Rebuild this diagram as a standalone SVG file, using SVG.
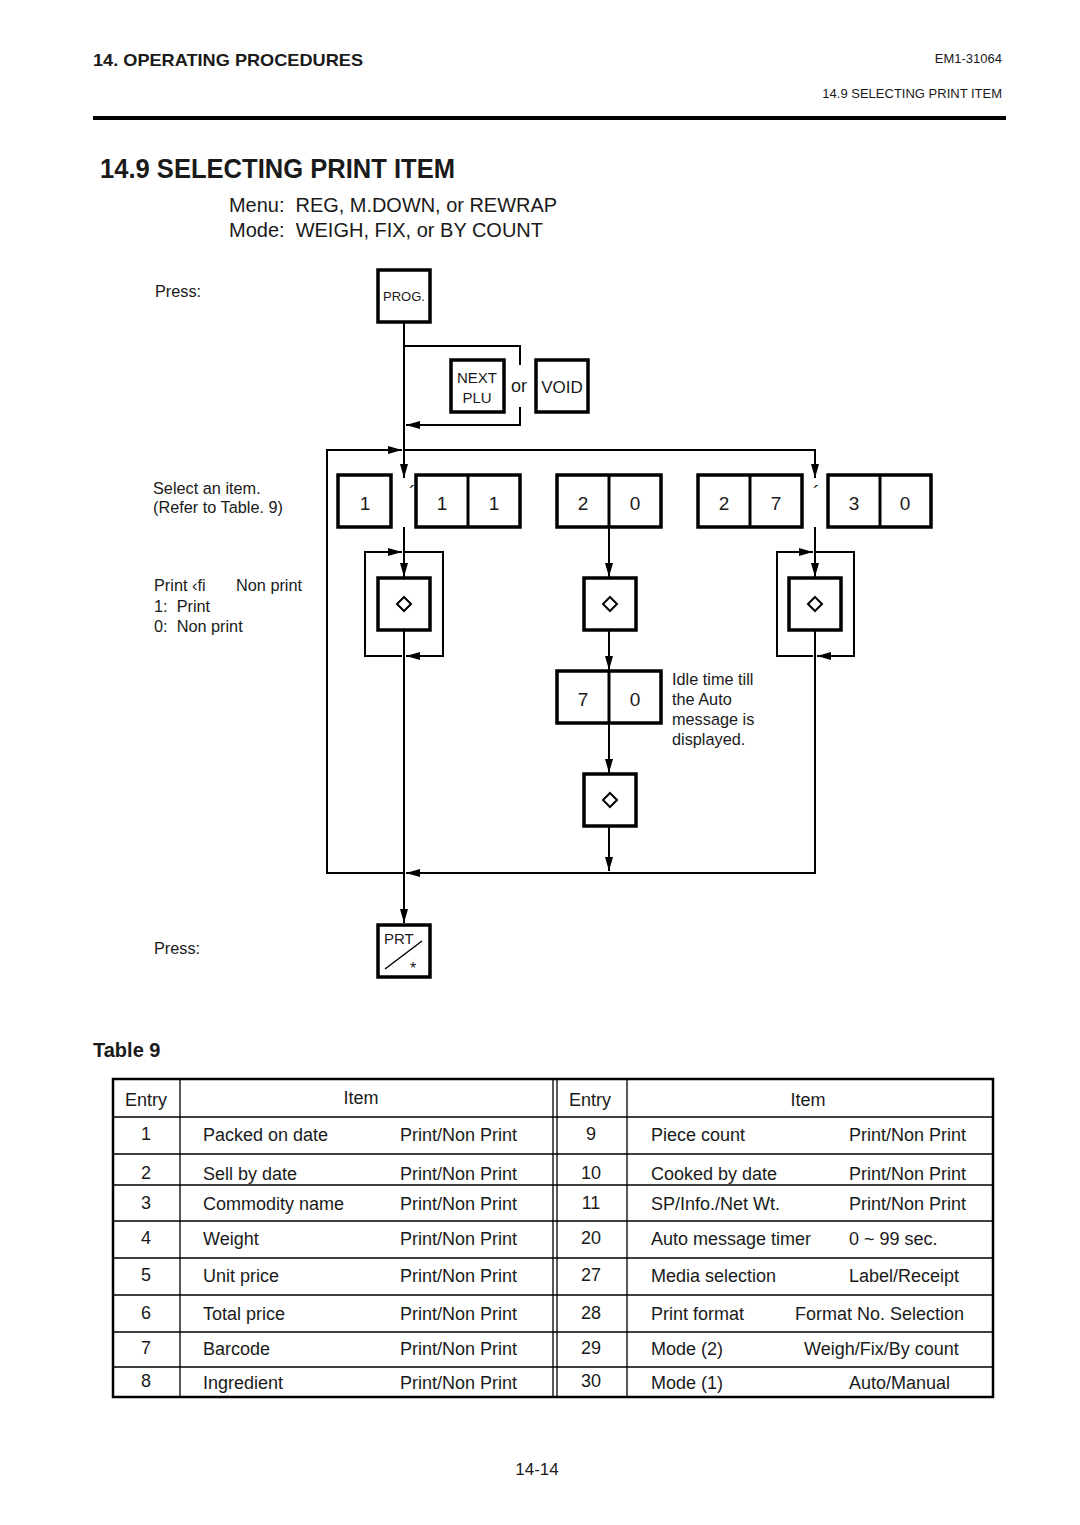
<svg xmlns="http://www.w3.org/2000/svg" width="1080" height="1525" viewBox="0 0 1080 1525" xml:space="preserve">
<style>
text{font-family:"Liberation Sans",Arial,sans-serif;fill:#1a1a1a;white-space:pre}
.key{fill:#fff;stroke:#000;stroke-width:3.5}
.div{stroke:#000;stroke-width:3}
.flow{fill:none;stroke:#000;stroke-width:2}
.k{font-size:19px;text-anchor:middle}
.note{font-size:16.3px}
.tb{font-size:18px}
.tc{font-size:18px;text-anchor:middle}
.tl{stroke:#000;stroke-width:1.3;fill:none}
.dia{fill:#fff;stroke:#000;stroke-width:2}
</style>
<defs>
<marker id="ah" viewBox="0 0 14 8" refX="14" refY="4" markerWidth="14" markerHeight="8" markerUnits="userSpaceOnUse" orient="auto">
<path d="M0,0 L14,4 L0,8 z" fill="#000"/>
</marker>
</defs>
<rect width="1080" height="1525" fill="#fff"/>

<g id="header">
<text x="93" y="66" font-size="17" font-weight="bold" textLength="270" lengthAdjust="spacingAndGlyphs">14. OPERATING PROCEDURES</text>
<text x="1002" y="63" font-size="13" text-anchor="end">EM1-31064</text>
<text x="1002" y="98" font-size="13" text-anchor="end">14.9 SELECTING PRINT ITEM</text>
<rect x="93" y="116" width="913" height="4" fill="#000"/>
<text x="100" y="178" font-size="27" font-weight="bold" textLength="355" lengthAdjust="spacingAndGlyphs">14.9 SELECTING PRINT ITEM</text>
<text x="229" y="212" font-size="19.5" textLength="328" lengthAdjust="spacingAndGlyphs">Menu:  REG, M.DOWN, or REWRAP</text>
<text x="229" y="237" font-size="19.5" textLength="314" lengthAdjust="spacingAndGlyphs">Mode:  WEIGH, FIX, or BY COUNT</text>
</g>

<g id="notes">
<text class="note" x="155" y="297">Press:</text>
<text class="note" x="153" y="494">Select an item.</text>
<text class="note" x="153" y="513">(Refer to Table. 9)</text>
<text class="note" x="154" y="591">Print ‹fi</text>
<text class="note" x="236" y="591">Non print</text>
<text class="note" x="154" y="612">1:  Print</text>
<text class="note" x="154" y="632">0:  Non print</text>
<text class="note" x="672" y="685">Idle time till</text>
<text class="note" x="672" y="705">the Auto</text>
<text class="note" x="672" y="725">message is</text>
<text class="note" x="672" y="745">displayed.</text>
<text class="note" x="154" y="954">Press:</text>
</g>

<g id="connectors">
<path class="flow" d="M404,322 V478" marker-end="url(#ah)"/>
<path class="flow" d="M404,346 H520 V365"/>
<path class="flow" d="M520,407 V425 H406" marker-end="url(#ah)"/>
<path class="flow" d="M404,873 H327 V450 H402" marker-end="url(#ah)"/>
<path class="flow" d="M404,450 H815 V478" marker-end="url(#ah)"/>
<path class="flow" d="M404,527 V577" marker-end="url(#ah)"/>
<path class="flow" d="M404,630 V923" marker-end="url(#ah)"/>
<path class="flow" d="M402,656 H365 V552 H402" marker-end="url(#ah)"/>
<path class="flow" d="M404,552 H443 V656 H406" marker-end="url(#ah)"/>
<path class="flow" d="M609,527 V577" marker-end="url(#ah)"/>
<path class="flow" d="M609,630 V670" marker-end="url(#ah)"/>
<path class="flow" d="M609,723 V773" marker-end="url(#ah)"/>
<path class="flow" d="M609,826 V871" marker-end="url(#ah)"/>
<path class="flow" d="M815,527 V577" marker-end="url(#ah)"/>
<path class="flow" d="M813,656 H777 V552 H813" marker-end="url(#ah)"/>
<path class="flow" d="M815,552 H854 V656 H817" marker-end="url(#ah)"/>
<path class="flow" d="M815,630 V873 H406" marker-end="url(#ah)"/>
</g>

<g id="key-prog">
<rect class="key" x="378" y="270" width="52" height="52"/>
<text x="404" y="301" font-size="13" text-anchor="middle">PROG.</text>
</g>
<g id="key-nextplu">
<rect class="key" x="451" y="360" width="53" height="52"/>
<text x="477" y="383" font-size="15" text-anchor="middle">NEXT</text>
<text x="477" y="403" font-size="15" text-anchor="middle">PLU</text>
</g>
<text x="511" y="392" font-size="18">or</text>
<g id="key-void">
<rect class="key" x="536" y="360" width="52" height="52"/>
<text x="562" y="393" font-size="17" text-anchor="middle">VOID</text>
</g>

<g id="key-1">
<rect class="key" x="338" y="475" width="53" height="52"/>
<text class="k" x="365" y="510">1</text>
</g>
<text x="409" y="500" font-size="20">´</text>
<g id="key-11">
<rect class="key" x="416" y="475" width="104" height="52"/>
<line class="div" x1="468" y1="475" x2="468" y2="527"/>
<text class="k" x="442" y="510">1</text>
<text class="k" x="494" y="510">1</text>
</g>
<g id="key-20">
<rect class="key" x="557" y="475" width="104" height="52"/>
<line class="div" x1="609" y1="475" x2="609" y2="527"/>
<text class="k" x="583" y="510">2</text>
<text class="k" x="635" y="510">0</text>
</g>
<g id="key-27">
<rect class="key" x="698" y="475" width="104" height="52"/>
<line class="div" x1="750" y1="475" x2="750" y2="527"/>
<text class="k" x="724" y="510">2</text>
<text class="k" x="776" y="510">7</text>
</g>
<text x="813" y="500" font-size="20">´</text>
<g id="key-30">
<rect class="key" x="828" y="475" width="103" height="52"/>
<line class="div" x1="880" y1="475" x2="880" y2="527"/>
<text class="k" x="854" y="510">3</text>
<text class="k" x="905" y="510">0</text>
</g>

<g id="key-diamond-1">
<rect class="key" x="378" y="578" width="52" height="52"/>
<polygon class="dia" points="404,597 411,604 404,611 397,604"/>
</g>
<g id="key-diamond-2">
<rect class="key" x="584" y="578" width="52" height="52"/>
<polygon class="dia" points="610,597 617,604 610,611 603,604"/>
</g>
<g id="key-diamond-3">
<rect class="key" x="789" y="578" width="52" height="52"/>
<polygon class="dia" points="815,597 822,604 815,611 808,604"/>
</g>
<g id="key-70">
<rect class="key" x="557" y="671" width="104" height="52"/>
<line class="div" x1="609" y1="671" x2="609" y2="723"/>
<text class="k" x="583" y="706">7</text>
<text class="k" x="635" y="706">0</text>
</g>
<g id="key-diamond-4">
<rect class="key" x="584" y="774" width="52" height="52"/>
<polygon class="dia" points="610,793 617,800 610,807 603,800"/>
</g>

<g id="key-prt">
<rect class="key" x="378" y="925" width="52" height="52"/>
<text x="384" y="944" font-size="15">PRT</text>
<line x1="385" y1="969" x2="422" y2="941" stroke="#000" stroke-width="1.5"/>
<text x="413" y="974" font-size="16" text-anchor="middle">*</text>
</g>

<g id="table9">
<text x="93" y="1057" font-size="20" font-weight="bold">Table 9</text>
<rect x="113" y="1079" width="880" height="318" fill="none" stroke="#000" stroke-width="2.5"/>
<line class="tl" x1="180" y1="1079" x2="180" y2="1397"/>
<line class="tl" x1="553" y1="1079" x2="553" y2="1397"/>
<line class="tl" x1="557" y1="1079" x2="557" y2="1397"/>
<line class="tl" x1="627" y1="1079" x2="627" y2="1397"/>
<line class="tl" x1="113" y1="1117" x2="993" y2="1117" stroke-width="2"/>
<line class="tl" x1="113" y1="1154" x2="993" y2="1154"/>
<line class="tl" x1="113" y1="1185" x2="993" y2="1185"/>
<line class="tl" x1="113" y1="1221" x2="993" y2="1221"/>
<line class="tl" x1="113" y1="1258" x2="993" y2="1258"/>
<line class="tl" x1="113" y1="1295" x2="993" y2="1295"/>
<line class="tl" x1="113" y1="1332" x2="993" y2="1332"/>
<line class="tl" x1="113" y1="1367" x2="993" y2="1367"/>

<text class="tc" x="146" y="1106">Entry</text>
<text class="tc" x="361" y="1104">Item</text>
<text class="tc" x="590" y="1106">Entry</text>
<text class="tc" x="808" y="1106">Item</text>

<text class="tc" x="146" y="1140">1</text>
<text class="tb" x="203" y="1141">Packed on date</text>
<text class="tb" x="400" y="1141">Print/Non Print</text>
<text class="tc" x="146" y="1179">2</text>
<text class="tb" x="203" y="1180">Sell by date</text>
<text class="tb" x="400" y="1180">Print/Non Print</text>
<text class="tc" x="146" y="1209">3</text>
<text class="tb" x="203" y="1210">Commodity name</text>
<text class="tb" x="400" y="1210">Print/Non Print</text>
<text class="tc" x="146" y="1244">4</text>
<text class="tb" x="203" y="1245">Weight</text>
<text class="tb" x="400" y="1245">Print/Non Print</text>
<text class="tc" x="146" y="1281">5</text>
<text class="tb" x="203" y="1282">Unit price</text>
<text class="tb" x="400" y="1282">Print/Non Print</text>
<text class="tc" x="146" y="1319">6</text>
<text class="tb" x="203" y="1320">Total price</text>
<text class="tb" x="400" y="1320">Print/Non Print</text>
<text class="tc" x="146" y="1354">7</text>
<text class="tb" x="203" y="1355">Barcode</text>
<text class="tb" x="400" y="1355">Print/Non Print</text>
<text class="tc" x="146" y="1387">8</text>
<text class="tb" x="203" y="1389">Ingredient</text>
<text class="tb" x="400" y="1389">Print/Non Print</text>

<text class="tc" x="591" y="1140">9</text>
<text class="tb" x="651" y="1141">Piece count</text>
<text class="tb" x="849" y="1141">Print/Non Print</text>
<text class="tc" x="591" y="1179">10</text>
<text class="tb" x="651" y="1180">Cooked by date</text>
<text class="tb" x="849" y="1180">Print/Non Print</text>
<text class="tc" x="591" y="1209">11</text>
<text class="tb" x="651" y="1210">SP/Info./Net Wt.</text>
<text class="tb" x="849" y="1210">Print/Non Print</text>
<text class="tc" x="591" y="1244">20</text>
<text class="tb" x="651" y="1245">Auto message timer</text>
<text class="tb" x="849" y="1245">0 ~ 99 sec.</text>
<text class="tc" x="591" y="1281">27</text>
<text class="tb" x="651" y="1282">Media selection</text>
<text class="tb" x="849" y="1282">Label/Receipt</text>
<text class="tc" x="591" y="1319">28</text>
<text class="tb" x="651" y="1320">Print format</text>
<text class="tb" x="795" y="1320">Format No. Selection</text>
<text class="tc" x="591" y="1354">29</text>
<text class="tb" x="651" y="1355">Mode (2)</text>
<text class="tb" x="804" y="1355">Weigh/Fix/By count</text>
<text class="tc" x="591" y="1387">30</text>
<text class="tb" x="651" y="1389">Mode (1)</text>
<text class="tb" x="849" y="1389">Auto/Manual</text>
</g>

<text x="537" y="1475" font-size="17" text-anchor="middle">14-14</text>
</svg>
